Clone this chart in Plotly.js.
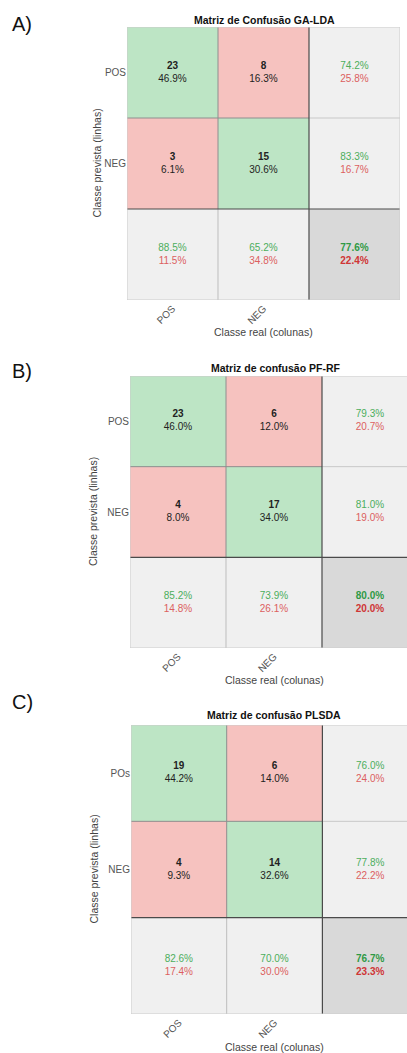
<!DOCTYPE html>
<html><head><meta charset="utf-8">
<script src="https://cdn.plot.ly/plotly-3.0.1.min.js"></script>
<style>html,body{margin:0;padding:0;background:#fff}</style>
</head><body><div id="chart" style="width:407px;height:1053px"></div>
<script>
// ---- data ----
const panelLabels = ["A)", "B)", "C)"];
const titles = ["Matriz de Confusão GA-LDA", "Matriz de confusão PF-RF", "Matriz de confusão PLSDA"];
const colLabels = ["POS", "NEG"];
const rowLabelsA = ["POS", "NEG"];
const rowLabelsB = ["POS", "NEG"];
const rowLabelsC = ["POs", "NEG"];
const xTitle = "Classe real (colunas)";
const yTitle = "Classe prevista (linhas)";

const countsA = [[23, 8], [3, 15]];
const pctA = [[46.9, 16.3], [6.1, 30.6]];
const rowSumA = [[74.2, 25.8], [83.3, 16.7]];
const colSumA = [[88.5, 11.5], [65.2, 34.8]];
const totalA = [77.6, 22.4];

const countsB = [[23, 6], [4, 17]];
const pctB = [[46.0, 12.0], [8.0, 34.0]];
const rowSumB = [[79.3, 20.7], [81.0, 19.0]];
const colSumB = [[85.2, 14.8], [73.9, 26.1]];
const totalB = [80.0, 20.0];

const countsC = [[19, 6], [4, 14]];
const pctC = [[44.2, 14.0], [9.3, 32.6]];
const rowSumC = [[76.0, 24.0], [77.8, 22.2]];
const colSumC = [[82.6, 17.4], [70.0, 30.0]];
const totalC = [76.7, 23.3];

// ---- styling ----
const W = 407, H = 1053;
const FONT = "Liberation Sans, Arial, Helvetica, sans-serif";
const GREEN = "#bde5c5", RED = "#f6c2bf", LGREY = "#f0f0f0", DGREY = "#d9d9d9";
const GTXT = "#4cae5c", RTXT = "#dc5f5f", GTXT_B = "#2f9a45", RTXT_B = "#cf3535";

const panels = [
  {counts: countsA, pct: pctA, rowSum: rowSumA, colSum: colSumA, total: totalA, rows: rowLabelsA,
   px: [127, 400], py: [27, 300], colW: 91, titleX: 264, titleY: 20, xtY: 332, labY: 24, ytX: 96},
  {counts: countsB, pct: pctB, rowSum: rowSumB, colSum: colSumB, total: totalB, rows: rowLabelsB,
   px: [130, 407], py: [376, 648], colW: 96, titleX: 276, titleY: 368, xtY: 680, labY: 371, ytX: 93},
  {counts: countsC, pct: pctC, rowSum: rowSumC, colSum: colSumC, total: totalC, rows: rowLabelsC,
   px: [131, 407], py: [725, 1014], colW: 95.7, titleX: 274, titleY: 715, xtY: 1047, labY: 702, ytX: 93}
];

const fmt = v => v.toFixed(1) + "%";
const traces = [];
const shapes = [];
const annotations = [];
const layout = {
  width: W, height: H, margin: {l: 0, r: 0, t: 0, b: 0},
  paper_bgcolor: "#fff", plot_bgcolor: "#fff",
  font: {family: FONT, size: 10, color: "#333"},
  showlegend: false
};

panels.forEach((p, i) => {
  const sfx = i === 0 ? "" : String(i + 1);
  const xa = "x" + sfx, ya = "y" + sfx;
  // cell categories: 0 diag, 1 off-diag, 2 summary, 3 overall
  const z = [], xs = [], ys = [], txt = [];
  for (let r = 0; r < 3; r++) {
    const row = [];
    for (let c = 0; c < 3; c++) {
      let cat, t;
      if (r < 2 && c < 2) {
        cat = r === c ? 0 : 1;
        t = "<b>" + p.counts[r][c] + "</b><br>" + fmt(p.pct[r][c]);
      } else if (r < 2 && c === 2) {
        cat = 2;
        t = '<span style="color:' + GTXT + '">' + fmt(p.rowSum[r][0]) + '</span><br><span style="color:' + RTXT + '">' + fmt(p.rowSum[r][1]) + '</span>';
      } else if (r === 2 && c < 2) {
        cat = 2;
        t = '<span style="color:' + GTXT + '">' + fmt(p.colSum[c][0]) + '</span><br><span style="color:' + RTXT + '">' + fmt(p.colSum[c][1]) + '</span>';
      } else {
        cat = 3;
        t = '<b><span style="color:' + GTXT_B + '">' + fmt(p.total[0]) + '</span><br><span style="color:' + RTXT_B + '">' + fmt(p.total[1]) + '</span></b>';
      }
      row.push(cat);
      xs.push(c); ys.push(r); txt.push(t);
    }
    z.push(row);
  }
  traces.push({
    type: "heatmap", xaxis: xa, yaxis: ya, x: [0, 1, 2], y: [0, 1, 2], z: z,
    zmin: 0, zmax: 3, showscale: false, hoverinfo: "skip",
    colorscale: [[0, GREEN], [0.25, GREEN], [0.25, RED], [0.5, RED], [0.5, LGREY], [0.75, LGREY], [0.75, DGREY], [1, DGREY]]
  });
  traces.push({
    type: "scatter", mode: "text", xaxis: xa, yaxis: ya, x: xs, y: ys, text: txt,
    textfont: {family: FONT, size: 10, color: "#222"}, hoverinfo: "skip", cliponaxis: false
  });

  const xmax = -0.5 + (p.px[1] - p.px[0]) / p.colW;
  layout["xaxis" + sfx] = {
    domain: [p.px[0] / W, p.px[1] / W], range: [-0.5, xmax], anchor: ya,
    tickmode: "array", tickvals: [0, 1], ticktext: colLabels, tickangle: -45,
    showgrid: false, zeroline: false, showline: false, ticks: "",
    tickfont: {family: FONT, size: 10, color: "#555"}, fixedrange: true
  };
  layout["yaxis" + sfx] = {
    domain: [1 - p.py[1] / H, 1 - p.py[0] / H], range: [2.5, -0.5], anchor: xa,
    tickmode: "array", tickvals: [0, 1], ticktext: p.rows,
    showgrid: false, zeroline: false, showline: false, ticks: "",
    tickfont: {family: FONT, size: 10, color: "#555"}, fixedrange: true
  };

  const line = (x0, y0, x1, y1, color, w) => shapes.push({
    type: "line", xref: xa, yref: ya, x0, y0, x1, y1, line: {color, width: w}, layer: "above"
  });
  line(0.5, -0.5, 0.5, 1.5, "#8e8e8e", 1);
  line(0.5, 1.5, 0.5, 2.5, "#bdbdbd", 1);
  line(-0.5, 0.5, 1.5, 0.5, "#8e8e8e", 1);
  line(1.5, 0.5, 2.5, 0.5, "#c8c8c8", 1);
  line(1.5, -0.5, 1.5, 2.5, "#4a4a4a", 1.2);
  line(-0.5, 1.5, 2.5, 1.5, "#4a4a4a", 1.2);
  shapes.push({type: "rect", xref: xa, yref: ya, x0: -0.5, y0: -0.5, x1: 2.5, y1: 2.5,
    line: {color: "#cccccc", width: 1}, layer: "above"});

  annotations.push({text: "<b>" + titles[i] + "</b>", xref: "paper", yref: "paper",
    x: p.titleX / W, y: 1 - p.titleY / H, showarrow: false, xanchor: "center", yanchor: "middle",
    font: {family: FONT, size: 10.5, color: "#111"}});
  annotations.push({text: xTitle, xref: "paper", yref: "paper",
    x: ((p.px[0] + p.px[0] + 3 * p.colW) / 2) / W, y: 1 - p.xtY / H, showarrow: false,
    xanchor: "center", yanchor: "middle", font: {family: FONT, size: 10.5, color: "#444"}});
  annotations.push({text: yTitle, xref: "paper", yref: "paper", textangle: -90,
    x: p.ytX / W, y: 1 - ((p.py[0] + p.py[1]) / 2) / H, showarrow: false,
    xanchor: "center", yanchor: "middle", font: {family: FONT, size: 10.5, color: "#444"}});
  annotations.push({text: panelLabels[i], xref: "paper", yref: "paper",
    x: 10 / W, y: 1 - p.labY / H, showarrow: false, xanchor: "left", yanchor: "middle",
    font: {family: FONT, size: 20, color: "#111"}});
});

layout.shapes = shapes;
layout.annotations = annotations;
Plotly.newPlot("chart", traces, layout, {staticPlot: true, displayModeBar: false});
</script>
</body></html>
